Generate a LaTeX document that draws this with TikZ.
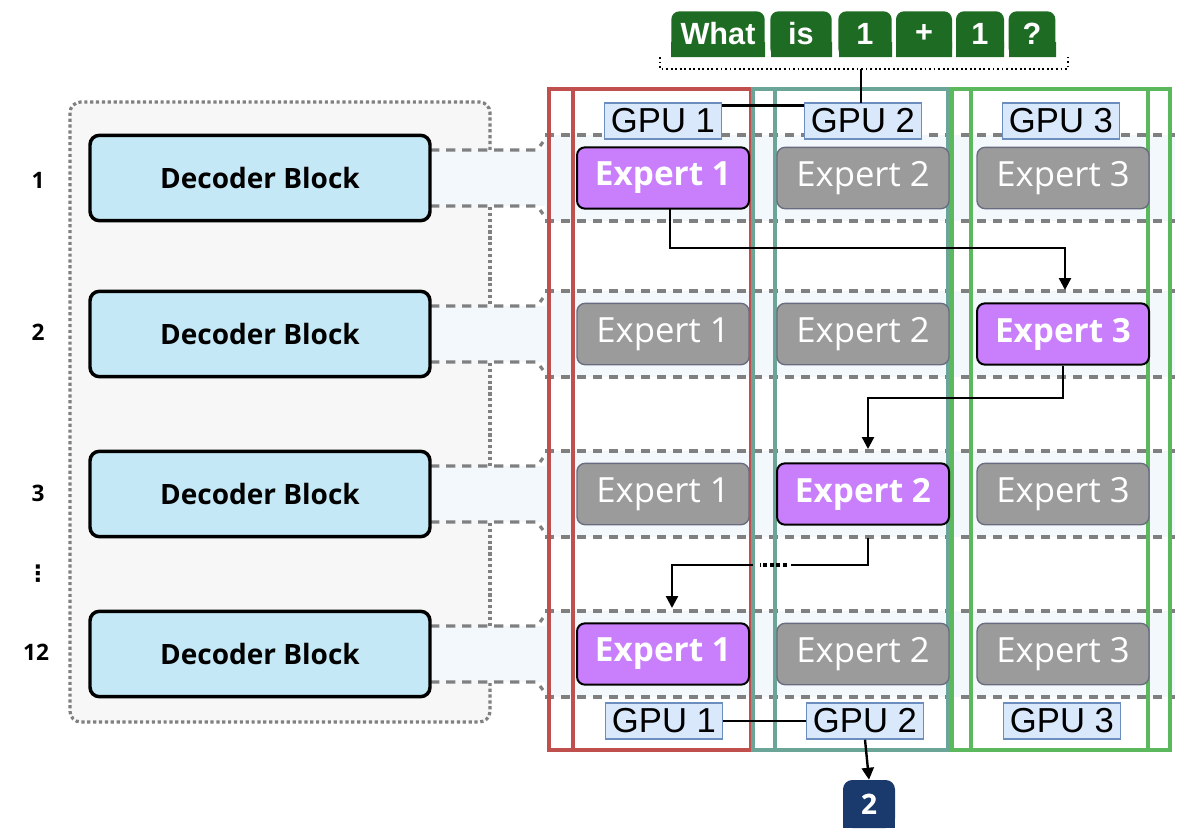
\documentclass[tikz,border=0pt]{standalone}
\usepackage{fontspec}
\setmainfont{Open Sans}
\newfontfamily\arialf{Liberation Sans}
\usetikzlibrary{arrows.meta,calc}
\definecolor{panelbg}{HTML}{F7F7F7}
\definecolor{decfill}{HTML}{C5E8F7}
\definecolor{bandfill}{HTML}{F2F8FC}
\definecolor{dashgray}{HTML}{808080}
\definecolor{actfill}{HTML}{C97EFC}
\definecolor{inactfill}{HTML}{9B9B9B}
\definecolor{inactdraw}{HTML}{6B6B80}
\definecolor{gpufill}{HTML}{DAE8FC}
\definecolor{gpudraw}{HTML}{6C8EBF}
\definecolor{redc}{HTML}{C0504D}
\definecolor{tealc}{HTML}{6AA597}
\definecolor{greenc}{HTML}{5CB85C}
\definecolor{tokc}{HTML}{1E6B23}
\definecolor{navy}{HTML}{1A3A6E}
\tikzset{
  decblock/.style={draw=black,line width=2.6pt,fill=decfill,rounded corners=7pt,minimum width=255pt,minimum height=64pt,inner sep=0pt,font=\bfseries\fontsize{21}{21}\selectfont},
  actexp/.style={draw=black,line width=1.5pt,fill=actfill,rounded corners=6pt,minimum width=129pt,minimum height=46pt,inner sep=0pt,text=white,font=\bfseries\fontsize{25}{25}\selectfont},
  inexp/.style={draw=inactdraw,line width=1pt,fill=inactfill,rounded corners=6pt,minimum width=129pt,minimum height=46pt,inner sep=0pt,text=white,font=\fontsize{26}{26}\selectfont},
  gpubox/.style={draw=gpudraw,line width=1pt,fill=gpufill,minimum width=88pt,minimum height=27pt,inner sep=0pt,font=\arialf\fontsize{26}{26}\selectfont},
  tok/.style={fill=tokc,rounded corners=6pt,minimum height=34pt,inner sep=0pt,text=white,font=\arialf\bfseries\fontsize{23}{23}\selectfont},
  rowlab/.style={font=\bfseries\fontsize{17}{17}\selectfont},
  banddash/.style={draw=dashgray,line width=2.4pt,dash pattern=on 7pt off 5pt},
  arr/.style={line width=1.8pt,-{Triangle[length=9pt,width=9pt]}},
}
\begin{document}
\begin{tikzpicture}[x=0.75pt,y=-0.75pt]
\useasboundingbox (0,0) rectangle (1196,836);
% left panel
\fill[panelbg,rounded corners=8pt] (70,102) rectangle (492,722);
\draw[dashgray,line width=2.4pt,dotted,rounded corners=8pt] (490,150) -- (490,102) -- (70,102) -- (70,722) -- (490,722) -- (490,683);
\foreach \a/\b in {207/306,363/466,523/626}{
  \draw[dashgray,line width=2.4pt,dotted] (490,\a) -- (490,\b);
}
% bands and connectors
\foreach \c in {178,334,494,654}{
  \fill[bandfill] (430,\c-28) rectangle (545,\c+28);
  \fill[bandfill] (545,\c-43) rectangle (1175,\c+43);
  \draw[banddash] (545,\c-43) -- (1175,\c-43);
  \draw[banddash] (545,\c+43) -- (1175,\c+43);
  \draw[banddash] (430,\c-28) -- (537,\c-28) -- (543,\c-36);
  \draw[banddash] (430,\c+28) -- (537,\c+28) -- (543,\c+36);
}
% decoder blocks
\node[decblock] (d1) at (260,178) {Decoder Block};
\node[decblock] (d2) at (260,334) {Decoder Block};
\node[decblock] (d3) at (260,494) {Decoder Block};
\node[decblock] (d4) at (260,654) {Decoder Block};
\node[rowlab] (l1) at (38,180) {1};
\node[rowlab] (l2) at (38,332) {2};
\node[rowlab] (l3) at (38,493) {3};
\node[rowlab] (l4) at (38,574) {\fontspec{DejaVu Sans}⋮};
\node[rowlab] (l5) at (36,652) {12};
% GPU columns
\draw[redc,line width=2.6pt] (549,89) rectangle (751,750) (573,89) -- (573,750);
\draw[tealc,line width=2.6pt] (753,89) rectangle (948,750) (775,89) -- (775,750);
\draw[greenc,line width=2.6pt] (952,89) rectangle (1170,750) (971,89) -- (971,750) (1148,89) -- (1148,750);
% experts
\node[actexp] (e11) at (663,178) {Expert 1};
\node[inexp] (e12) at (863,178) {Expert 2};
\node[inexp] (e13) at (1063,178) {Expert 3};
\node[inexp] (e21) at (663,334) {Expert 1};
\node[inexp] (e22) at (863,334) {Expert 2};
\node[actexp] (e23) at (1063,334) {Expert 3};
\node[inexp] (e31) at (663,494) {Expert 1};
\node[actexp] (e32) at (863,494) {Expert 2};
\node[inexp] (e33) at (1063,494) {Expert 3};
\node[actexp] (e41) at (663,654) {Expert 1};
\node[inexp] (e42) at (863,654) {Expert 2};
\node[inexp] (e43) at (1063,654) {Expert 3};
% GPU labels
\node[gpubox] (g1t) at (663,121) {GPU 1};
\node[gpubox] (g2t) at (863,121) {GPU 2};
\node[gpubox] (g3t) at (1061,121) {GPU 3};
\node[gpubox] (g1b) at (664,721) {GPU 1};
\node[gpubox] (g2b) at (865,721) {GPU 2};
\node[gpubox] (g3b) at (1062,721) {GPU 3};
% tokens
\fill[tokc] (671,42) rectangle (765,57) (771,42) rectangle (832,57) (839,42) rectangle (892,57) (896,42) rectangle (952,57) (956,42) rectangle (1004,57) (1009,42) rectangle (1056,57);
\node[tok,minimum width=70pt] (t1) at (718,34) {What};
\node[tok,minimum width=46pt] (t2) at (801,34) {is};
\node[tok,minimum width=40pt] (t3) at (865,34) {1};
\node[tok,minimum width=42pt] (t4) at (924,34) {+};
\node[tok,minimum width=36pt] (t5) at (980,34) {1};
\node[tok,minimum width=35pt] (t6) at (1032,34) {?};
\coordinate (bl) at (660,57);
\coordinate (br) at (1068,57);
\draw[black,line width=1.4pt,dotted] (bl) -- (660,69) -- (1068,69) -- (br);
\coordinate (bm) at (861,69);
\draw[line width=1.8pt] (bm) -- (861,103);
\draw[line width=1.8pt] ($(g1t.north east)+(0,3)$) -- ($(g2t.north west)+(0,3)$);
\draw[line width=1.8pt] (g1b.east) -- (g2b.west);
% routing arrows
\draw[arr] (670,209) -- (670,248) -- (1065,248) -- (1065,290);
\draw[arr] (e23.south) -- (1063,398) -- (868,398) -- (868,449);
\draw[line width=1.8pt] (868,538) -- (868,565) -- (791,565);
\draw[line width=3pt,dotted] (787,565) -- (760,565);
\draw[arr] (753,565) -- (672,565) -- (672,608);
% output
\node[fill=navy,rounded corners=7pt,minimum width=39pt,minimum height=36pt,inner sep=0pt,text=white,font=\bfseries\fontsize{21}{21}\selectfont] (out) at (869,804) {2};
\fill[navy] (843,810) rectangle (895,828);
\node[text=white,font=\bfseries\fontsize{21}{21}\selectfont] at (out.center) {2};
\draw[arr] (g2b.south) -- (out.north);
\end{tikzpicture}
\end{document}
